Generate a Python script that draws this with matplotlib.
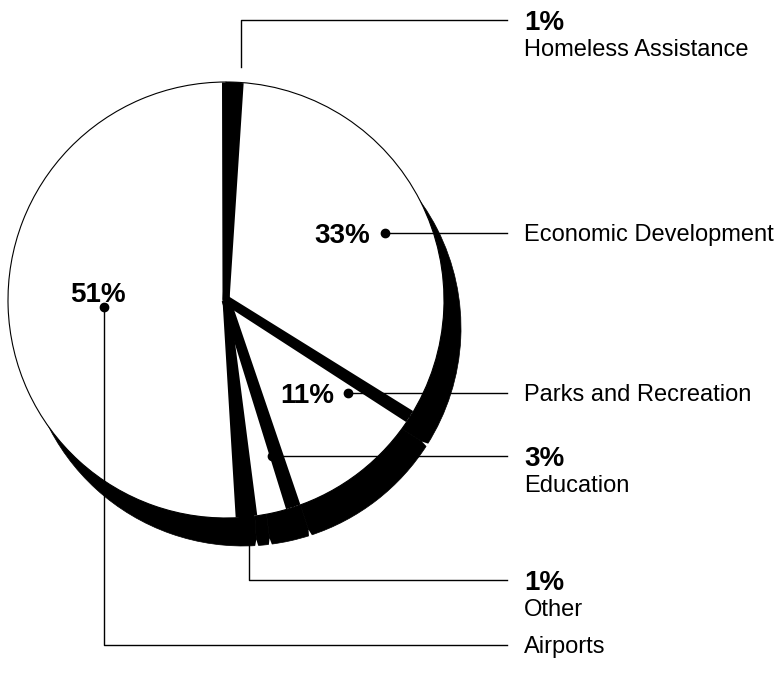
import numpy as np
import matplotlib.pyplot as plt
from matplotlib.patches import Wedge, Polygon

# slice data, clockwise from 12 o'clock
categories = ["Homeless Assistance", "Economic Development", "Parks and Recreation",
              "Education", "Other", "Airports"]
shares = [1, 33, 11, 3, 1, 51]
pct_labels = ["1%", "33%", "11%", "3%", "1%", "51%"]

plt.rcParams['font.family'] = ['Liberation Sans', 'DejaVu Sans']

fig = plt.figure(figsize=(7.84, 6.73), dpi=100)
ax = fig.add_axes([0, 0, 1, 1])
ax.set_xlim(0, 784)
ax.set_ylim(673, 0)
ax.axis('off')

cx, cy, r = 226, 300, 218
dx, dy = 17, 28   # shadow offset

fracs = np.array(shares) / sum(shares)
edges = -90 + 360 * np.concatenate([[0], np.cumsum(fracs)])

# black "depth" shadow
for a0, a1 in zip(edges[:-1], edges[1:]):
    ax.add_patch(Wedge((cx + dx, cy + dy), r, a0, a1, facecolor='black',
                       edgecolor='black', lw=0.5, zorder=1))
# small white notches where the shadow slices meet (V shaped)
for a in edges[:-1]:
    t0, t1, tm = np.radians(a - 0.45), np.radians(a + 0.45), np.radians(a)
    sc = np.array([cx + dx, cy + dy])
    pts = [sc + (r + 1) * np.array([np.cos(t0), np.sin(t0)]),
           sc + (r + 1) * np.array([np.cos(t1), np.sin(t1)]),
           sc + (r - 6) * np.array([np.cos(tm), np.sin(tm)])]
    ax.add_patch(Polygon(pts, closed=True, facecolor='white', edgecolor='none', zorder=1.5))

# slice faces (the tiny 1% slices end up solid black)
for i, (a0, a1) in enumerate(zip(edges[:-1], edges[1:])):
    fc = 'black' if shares[i] <= 1 else 'white'
    ax.add_patch(Wedge((cx, cy), r, a0, a1, facecolor=fc,
                       edgecolor='black', lw=0.8, zorder=2))

# heavy tapered dividers between slices (width at centre, width at rim)
div_w = [(7, 8), (7, 8), (9, 13), (9, 15), (7, 8), (7, 8)]
for a, (w0, w1) in zip(edges[:-1], div_w):
    t = np.radians(a)
    u = np.array([np.cos(t), np.sin(t)])
    n = np.array([-u[1], u[0]])
    c = np.array([cx, cy])
    tip = c + (r - 0.5) * u
    pts = [c + n * w0 / 2, tip + n * w1 / 2, tip - n * w1 / 2, c - n * w0 / 2]
    ax.add_patch(Polygon(pts, closed=True, facecolor='black', edgecolor='none', zorder=3))

lw = 1.0
tx = 524      # right column text
lx = 507      # leader end
pct_fs, name_fs = 20, 17
pct_cap = 0.716 * pct_fs * 100 / 72 / 2
name_cap = 0.716 * name_fs * 100 / 72 / 2


def dot(x, y):
    ax.plot([x], [y], 'o', color='black', ms=6, zorder=5)


def right_label(y, pct=None, name=None):
    if pct is not None:
        ax.text(tx, y + pct_cap, pct, fontsize=pct_fs, fontweight='bold', va='baseline')
        ax.text(tx, y + 28 + name_cap, name, fontsize=name_fs, va='baseline')
    else:
        ax.text(tx, y + name_cap, name, fontsize=name_fs, va='baseline')


# Homeless Assistance
ax.plot([241, 241, lx], [67, 20, 20], color='black', lw=lw)
right_label(20, pct_labels[0], categories[0])

# Economic Development
dot(385, 233)
ax.plot([385, lx], [233, 233], color='black', lw=lw, zorder=4)
ax.text(370, 233 + pct_cap, pct_labels[1], fontsize=pct_fs, fontweight='bold',
        ha='right', va='baseline')
right_label(233, name=categories[1])

# Parks and Recreation
dot(348, 393)
ax.plot([348, lx], [393, 393], color='black', lw=lw, zorder=4)
ax.text(334, 393 + pct_cap, pct_labels[2], fontsize=pct_fs, fontweight='bold',
        ha='right', va='baseline')
right_label(393, name=categories[2])

# Education
dot(272, 456)
ax.plot([272, lx], [456, 456], color='black', lw=lw, zorder=4)
right_label(456, pct_labels[3], categories[3])

# Other
ax.plot([249, 249, lx], [545, 580, 580], color='black', lw=lw, zorder=4)
right_label(580, pct_labels[4], categories[4])

# Airports
dot(104, 307)
ax.plot([104, 104, lx], [307, 645, 645], color='black', lw=lw, zorder=4)
ax.text(98, 292 + pct_cap, pct_labels[5], fontsize=pct_fs, fontweight='bold',
        ha='center', va='baseline')
right_label(645, name=categories[5])

fig.savefig('out.png', dpi=100, facecolor='white')
